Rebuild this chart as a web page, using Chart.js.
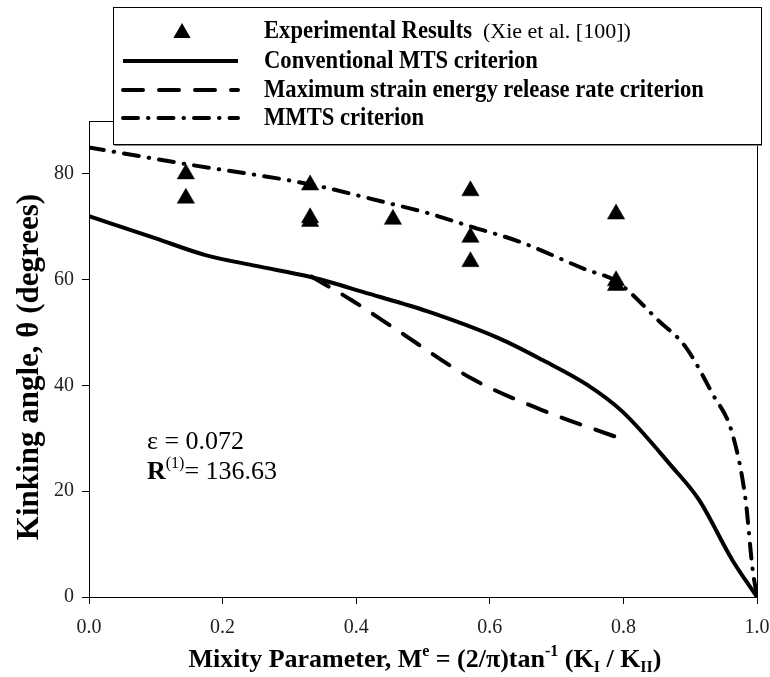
<!DOCTYPE html>
<html lang="en">
<head>
<meta charset="UTF-8">
<title>Kinking angle vs mixity parameter</title>
<script src="https://cdn.jsdelivr.net/npm/chart.js"></script>
<style>
  body { margin: 0; background: #fff; }
  .chart-box { width: 770px; height: 677px; position: relative; }
</style>
</head>
<body>
<div class="chart-box"><canvas id="kinkChart"></canvas></div>
<script>
// Experimental results (Xie et al. [100])
const expX = [0.145, 0.145, 0.331, 0.331, 0.331, 0.455, 0.571, 0.571, 0.571, 0.789, 0.789, 0.789];
const expY = [80.0, 75.4, 77.9, 71.7, 71.0, 71.4, 76.8, 68.0, 63.4, 72.4, 59.8, 58.9];

// Conventional MTS criterion
const mtsX = [0, 0.1, 0.173, 0.25, 0.332, 0.42, 0.507, 0.614, 0.679, 0.746, 0.799, 0.873, 0.913, 0.963, 1.0];
const mtsY = [72, 67.8, 64.7, 62.6, 60.5, 57.3, 54.0, 48.9, 44.8, 40.1, 35.0, 24.6, 18.4, 7.0, 0];

// Maximum strain energy release rate criterion
const serX = [0.333, 0.392, 0.455, 0.573, 0.677, 0.795];
const serY = [60.6, 56.2, 51.0, 41.3, 35.4, 30.0];

// MMTS criterion
const mmtsX = [0, 0.148, 0.332, 0.447, 0.507, 0.570, 0.644, 0.744, 0.789, 0.854, 0.893, 0.933, 0.963, 0.983, 0.993, 1.0];
const mmtsY = [85, 81.8, 78.0, 74.5, 72.6, 70.1, 67.2, 61.9, 59.7, 52.1, 47.3, 38.5, 30.9, 18.3, 5.7, 0];

const xTicks = [0, 0.2, 0.4, 0.6, 0.8, 1.0];
const yTicks = [0, 20, 40, 60, 80];

const legendLabels = ['Experimental Results', 'Conventional MTS criterion',
  'Maximum strain energy release rate criterion', 'MMTS criterion'];

const SERIF = "'Liberation Serif', 'Times New Roman', serif";
const DASH = [20, 16];
const DASHDOT = [15, 10, 0.5, 10];

const pts = (xs, ys) => xs.map((x, i) => ({ x: x, y: ys[i] }));

// parts: [text, font, dy, scaleX]
function drawParts(ctx, parts, x, y, align) {
  let total = 0;
  parts.forEach(p => { ctx.font = p[1]; total += ctx.measureText(p[0]).width * (p[3] || 1); });
  let cx = align === 'center' ? x - total / 2 : x;
  ctx.textAlign = 'left';
  parts.forEach(p => {
    const sx = p[3] || 1;
    ctx.font = p[1];
    ctx.save();
    ctx.translate(cx, y + (p[2] || 0));
    ctx.scale(sx, 1);
    ctx.fillText(p[0], 0, 0);
    ctx.restore();
    cx += ctx.measureText(p[0]).width * sx;
  });
}

const decorPlugin = {
  id: 'decor',
  afterDatasetsDraw(chart) {
    const ctx = chart.ctx;
    const a = chart.chartArea;
    ctx.save();
    ctx.fillStyle = '#000';
    ctx.strokeStyle = '#000';

    // plot frame (top + right)
    ctx.lineWidth = 1;
    ctx.strokeRect(a.left + 0.5, a.top + 0.5, a.right - a.left, a.bottom - a.top);

    // y title
    ctx.save();
    ctx.translate(30, 367);
    ctx.rotate(-Math.PI / 2);
    ctx.font = 'bold 31px ' + SERIF;
    ctx.textAlign = 'center';
    ctx.textBaseline = 'middle';
    ctx.fillText('Kinking angle, \u03B8 (degrees)', 0, 0);
    ctx.restore();

    // x title
    ctx.textBaseline = 'alphabetic';
    const B = 'bold 26px ' + SERIF, S = 'bold 16px ' + SERIF;
    drawParts(ctx, [
      ['Mixity Parameter, M', B], ['e', S, -11], [' = (2/\u03C0)tan', B], ['-1', S, -11],
      [' (K', B], ['I', S, 5], [' / K', B], ['II', S, 5], [')', B]
    ], 425, 667, 'center');

    // annotation
    drawParts(ctx, [['\u03B5 = 0.072', '26px ' + SERIF]], 147, 449, 'left');
    drawParts(ctx, [['R', 'bold 26px ' + SERIF], ['(1)', '16px ' + SERIF, -11], ['= 136.63', '26px ' + SERIF]], 147, 479, 'left');

    // legend box
    ctx.fillStyle = '#fff';
    ctx.fillRect(113, 7, 648, 137);
    ctx.strokeStyle = '#000';
    ctx.strokeRect(113.5, 7.5, 648, 137);
    ctx.strokeStyle = '#888';
    ctx.beginPath(); ctx.moveTo(114, 145.5); ctx.lineTo(762, 145.5); ctx.stroke();

    const rows = [31, 61, 90, 118];
    const sx0 = 123, sx1 = 238;
    ctx.fillStyle = '#000';
    ctx.strokeStyle = '#000';
    // triangle
    const r = 10, cx = 182, cy = rows[0] + 2;
    ctx.beginPath();
    ctx.moveTo(cx, cy - r);
    ctx.lineTo(cx + r * Math.sin(2 * Math.PI / 3), cy - r * Math.cos(2 * Math.PI / 3));
    ctx.lineTo(cx + r * Math.sin(4 * Math.PI / 3), cy - r * Math.cos(4 * Math.PI / 3));
    ctx.closePath();
    ctx.fill();
    // line samples
    [[[], 1], [DASH, 2], [DASHDOT, 3]].forEach(s => {
      ctx.lineWidth = 4;
      ctx.lineCap = s[0].length ? 'round' : 'butt';
      ctx.setLineDash(s[0]);
      ctx.beginPath();
      const y = rows[s[1]];
      ctx.moveTo(sx0, y); ctx.lineTo(sx1, y);
      ctx.stroke();
    });
    ctx.setLineDash([]);

    ctx.textBaseline = 'middle';
    const LF = 'bold 26px ' + SERIF;
    drawParts(ctx, [[legendLabels[0], LF, 0, 0.87], ['  (Xie et al. [100])', '22px ' + SERIF, 1]], 264, rows[0], 'left');
    for (let i = 1; i < 4; i++) drawParts(ctx, [[legendLabels[i], LF, 0, 0.87]], 264, rows[i], 'left');
    ctx.restore();
  }
};

const lineDs = (label, data, dash) => ({
  label: label,
  data: data,
  showLine: true,
  borderColor: '#000',
  borderWidth: 4,
  borderDash: dash,
  borderCapStyle: dash.length ? 'round' : 'butt',
  pointRadius: 0,
  pointHoverRadius: 0,
  cubicInterpolationMode: 'monotone',
  fill: false
});

new Chart(document.getElementById('kinkChart').getContext('2d'), {
  type: 'scatter',
  data: {
    datasets: [
      lineDs(legendLabels[1], pts(mtsX, mtsY), []),
      lineDs(legendLabels[2], pts(serX, serY), DASH),
      lineDs(legendLabels[3], pts(mmtsX, mmtsY), DASHDOT),
      {
        label: legendLabels[0],
        data: pts(expX, expY),
        pointStyle: 'triangle',
        pointRadius: 10,
        pointBorderWidth: 0.5,
        backgroundColor: '#000',
        borderColor: '#000',
        showLine: false
      }
    ]
  },
  options: {
    responsive: true,
    maintainAspectRatio: false,
    animation: false,
    layout: { padding: { left: 0, right: 13, top: 121, bottom: 0 } },
    plugins: { legend: { display: false }, tooltip: { enabled: false } },
    scales: {
      x: {
        type: 'linear', min: 0, max: 1,
        afterBuildTicks: s => { s.ticks = xTicks.map(v => ({ value: v })); },
        afterFit: s => { s.height = 80; s.paddingLeft = 0; s.paddingRight = 0; },
        grid: { drawOnChartArea: false, tickLength: 7, color: '#000' },
        border: { color: '#000' },
        ticks: { color: '#222', padding: 12, font: { family: SERIF, size: 20 },
          callback: v => v.toFixed(1) }
      },
      y: {
        type: 'linear', min: 0, max: 90,
        afterBuildTicks: s => { s.ticks = yTicks.map(v => ({ value: v })); },
        afterFit: s => { s.width = 89; s.paddingTop = 0; s.paddingBottom = 0; },
        grid: { drawOnChartArea: false, tickLength: 7, color: '#000' },
        border: { color: '#000' },
        ticks: { color: '#222', padding: 8, font: { family: SERIF, size: 20 } }
      }
    }
  },
  plugins: [decorPlugin]
});
</script>
</body>
</html>
